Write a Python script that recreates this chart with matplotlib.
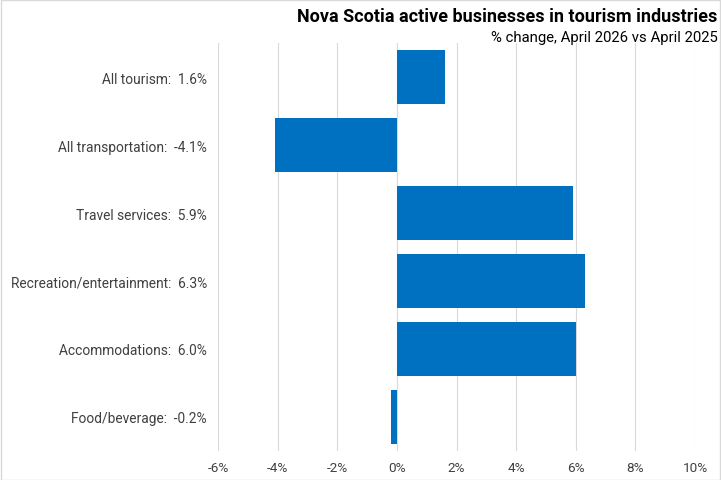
import matplotlib.pyplot as plt
from matplotlib.patches import Rectangle
from matplotlib.ticker import FuncFormatter

# Data
categories = ['All tourism', 'All transportation', 'Travel services',
              'Recreation/entertainment', 'Accommodations', 'Food/beverage']
values = [1.6, -4.1, 5.9, 6.3, 6.0, -0.2]
xticks = [-6, -4, -2, 0, 2, 4, 6, 8, 10]

plt.rcParams['font.family'] = ['Roboto', 'DejaVu Sans']

fig = plt.figure(figsize=(7.21, 4.81), dpi=100)
ax = fig.add_axes([0.3024, 0.0603, 0.6616, 0.8482])

# Bars, top to bottom
ypos = list(range(len(categories)))
ax.barh(ypos, values, height=0.8, color='#0070C0', zorder=3)
ax.set_ylim(len(categories) - 0.5, -0.5)
ax.set_xlim(-6, 10)

# Labels with values
labels = [f'{c}:  {v:.1f}%' for c, v in zip(categories, values)]
ax.set_yticks(ypos)
ax.set_yticklabels(labels, fontsize=9.9, color='#404040')
ax.set_xticks(xticks)
ax.xaxis.set_major_formatter(FuncFormatter(lambda v, p: f'{v:.0f}%'))
ax.tick_params(axis='x', labelsize=9.7, colors='#404040', length=0, pad=7)
ax.tick_params(axis='y', length=0, pad=8)

# Grid, no spines
ax.grid(axis='x', color='#D9D9D9', linewidth=0.8, zorder=0)
for s in ax.spines.values():
    s.set_visible(False)

# Titles
fig.text(0.995, 1 - 22 / 481, 'Nova Scotia active businesses in tourism industries',
         ha='right', va='baseline', fontsize=13, fontweight='bold', color='black')
fig.text(0.995, 1 - 42 / 481, '% change, April 2026 vs April 2025',
         ha='right', va='baseline', fontsize=10.7, color='black')

# Thin border around chart
fig.patches.append(Rectangle((0.001, 0.001), 0.998, 0.997, transform=fig.transFigure,
                             fill=False, edgecolor='#D9D9D9', linewidth=1))

plt.savefig('out.png', dpi=100)
